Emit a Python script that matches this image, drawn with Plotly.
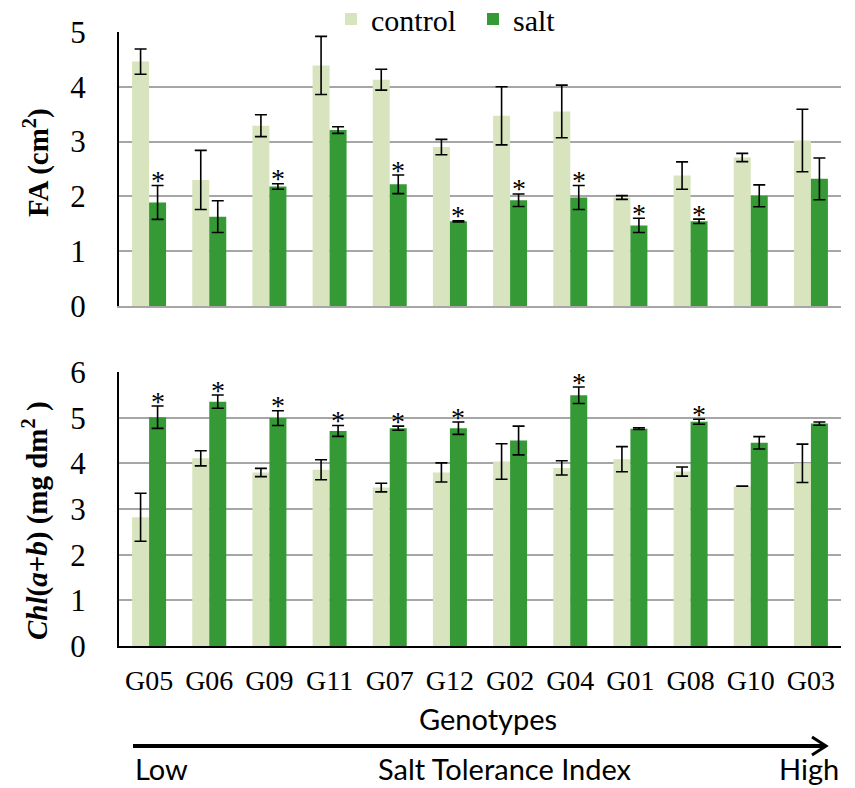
import plotly.graph_objects as go

genotypes = ["G05", "G06", "G09", "G11", "G07", "G12", "G02", "G04", "G01", "G08", "G10", "G03"]

fa_control = [4.46, 2.30, 3.29, 4.39, 4.13, 2.90, 3.47, 3.55, 1.98, 2.38, 2.71, 3.02]
fa_control_err = [0.23, 0.54, 0.20, 0.53, 0.19, 0.14, 0.53, 0.48, 0.035, 0.25, 0.075, 0.57]
fa_salt = [1.89, 1.63, 2.18, 3.21, 2.22, 1.545, 1.93, 1.98, 1.47, 1.545, 2.01, 2.32]
fa_salt_err = [0.31, 0.29, 0.05, 0.06, 0.17, 0.01, 0.115, 0.22, 0.13, 0.04, 0.20, 0.38]
fa_signif = [1, 0, 1, 0, 1, 1, 1, 1, 1, 1, 0, 0]

chl_control = [2.82, 4.11, 3.80, 3.86, 3.47, 3.80, 4.04, 3.90, 4.09, 3.82, 3.50, 4.00]
chl_control_err = [0.525, 0.165, 0.09, 0.22, 0.095, 0.21, 0.39, 0.155, 0.275, 0.10, 0.0, 0.42]
chl_salt = [5.01, 5.35, 4.99, 4.71, 4.77, 4.77, 4.50, 5.49, 4.76, 4.91, 4.45, 4.87]
chl_salt_err = [0.245, 0.145, 0.16, 0.12, 0.045, 0.135, 0.315, 0.18, 0.02, 0.055, 0.135, 0.035]
chl_signif = [1, 1, 1, 1, 1, 1, 0, 1, 0, 1, 0, 0]

C_CONTROL = "#d8e4bd"
C_SALT = "#359a36"
SERIF = "Liberation Serif"
SANS = "Lato"
# the page draws the figure 8px in from its top-left corner
OFF = 8
W, H = 855 - 2 * OFF, 788 - OFF

def px(x):
    return (x - OFF) / W

def py(y):
    return 1 - (y - OFF) / H

err_style = dict(type="data", color="black", thickness=1.6, width=6)

fig = go.Figure()
fig.add_trace(go.Bar(x=genotypes, y=fa_control, name="control", marker_color=C_CONTROL,
                     error_y=dict(array=fa_control_err, **err_style), xaxis="x", yaxis="y"))
fig.add_trace(go.Bar(x=genotypes, y=fa_salt, name="salt", marker_color=C_SALT,
                     error_y=dict(array=fa_salt_err, **err_style), xaxis="x", yaxis="y"))
fig.add_trace(go.Bar(x=genotypes, y=chl_control, name="control", marker_color=C_CONTROL, showlegend=False,
                     error_y=dict(array=chl_control_err, **err_style), xaxis="x2", yaxis="y2"))
fig.add_trace(go.Bar(x=genotypes, y=chl_salt, name="salt", marker_color=C_SALT, showlegend=False,
                     error_y=dict(array=chl_salt_err, **err_style), xaxis="x2", yaxis="y2"))

bargap = 0.435
salt_off = (1 - bargap) / 4

annotations = []
for i, s in enumerate(fa_signif):
    if s:
        annotations.append(dict(x=i + salt_off, y=fa_salt[i] + fa_salt_err[i], xref="x", yref="y",
                                text="*", showarrow=False, xanchor="center", yanchor="middle", yshift=5,
                                font=dict(family=SERIF, size=28, color="black")))
for i, s in enumerate(chl_signif):
    if s:
        annotations.append(dict(x=i + salt_off, y=chl_salt[i] + chl_salt_err[i], xref="x2", yref="y2",
                                text="*", showarrow=False, xanchor="center", yanchor="middle", yshift=5,
                                font=dict(family=SERIF, size=28, color="black")))

annotations += [
    dict(x=px(37), y=py(163), xref="paper", yref="paper", text="<b>FA (cm<sup>2</sup>)</b>",
         textangle=-90, showarrow=False, xanchor="center", yanchor="middle",
         font=dict(family=SERIF, size=29, color="black")),
    dict(x=px(35), y=py(521), xref="paper", yref="paper",
         text="<b><i>Chl</i>(<i>a</i>+<i>b</i>) (mg dm<sup>2</sup> )</b>",
         textangle=-90, showarrow=False, xanchor="center", yanchor="middle",
         font=dict(family=SERIF, size=29, color="black")),
    dict(x=px(488), y=py(718), xref="paper", yref="paper", text="Genotypes", showarrow=False,
         xanchor="center", yanchor="middle", font=dict(family=SANS, size=29, color="black")),
    dict(x=px(133), y=py(768), xref="paper", yref="paper", text="Low", showarrow=False,
         xanchor="left", yanchor="middle", font=dict(family=SANS, size=29, color="black")),
    dict(x=px(505), y=py(768), xref="paper", yref="paper", text="Salt Tolerance Index", showarrow=False,
         xanchor="center", yanchor="middle", font=dict(family=SANS, size=29, color="black")),
    dict(x=px(841), y=py(768), xref="paper", yref="paper", text="High", showarrow=False,
         xanchor="right", yanchor="middle", font=dict(family=SANS, size=29, color="black")),
]

shapes = [
    dict(type="line", xref="paper", yref="paper", x0=px(133), x1=px(824), y0=py(746), y1=py(746),
         line=dict(color="black", width=4)),
    dict(type="path", xref="paper", yref="paper",
         path=f"M {px(812)},{py(737)} L {px(826)},{py(746)} L {px(812)},{py(755)}",
         line=dict(color="black", width=3)),
]

grid = "#a6a6a6"
xdom = [px(119), px(841)]
fig.update_layout(
    template="none",
    width=W, height=H,
    margin=dict(l=0, r=0, t=0, b=0, autoexpand=False),
    paper_bgcolor="white", plot_bgcolor="white",
    barmode="group", bargap=bargap, bargroupgap=0,
    font=dict(family=SERIF, color="black"),
    legend=dict(orientation="h", x=px(331), xanchor="left", y=py(19), yanchor="middle",
                font=dict(family=SERIF, size=30, color="black"), itemwidth=30,
                entrywidth=97, entrywidthmode="pixels",
                bgcolor="rgba(0,0,0,0)"),
    xaxis=dict(domain=xdom, anchor="y", type="category", showticklabels=False, automargin=False,
               showline=True, linecolor=grid, linewidth=1.5, ticks="", showgrid=False),
    yaxis=dict(domain=[py(306), py(32)], anchor="x", range=[0, 5], dtick=1, automargin=False,
               showgrid=True, gridcolor=grid, gridwidth=1.5, zeroline=False,
               showline=True, linecolor="black", linewidth=2, ticks="",
               ticklabelstandoff=25, tickfont=dict(family=SERIF, size=31, color="black")),
    xaxis2=dict(domain=xdom, anchor="y2", type="category", automargin=False,
                showline=True, linecolor="black", linewidth=2, ticks="", showgrid=False,
                ticklabelstandoff=8, tickfont=dict(family=SERIF, size=28, color="black")),
    yaxis2=dict(domain=[py(646), py(372)], anchor="x2", range=[0, 6], dtick=1, automargin=False,
                showgrid=True, gridcolor=grid, gridwidth=1.5, zeroline=False,
                showline=True, linecolor="black", linewidth=2, ticks="",
                ticklabelstandoff=25, tickfont=dict(family=SERIF, size=31, color="black")),
    annotations=annotations,
    shapes=shapes,
)

fig.write_html("out.html")
